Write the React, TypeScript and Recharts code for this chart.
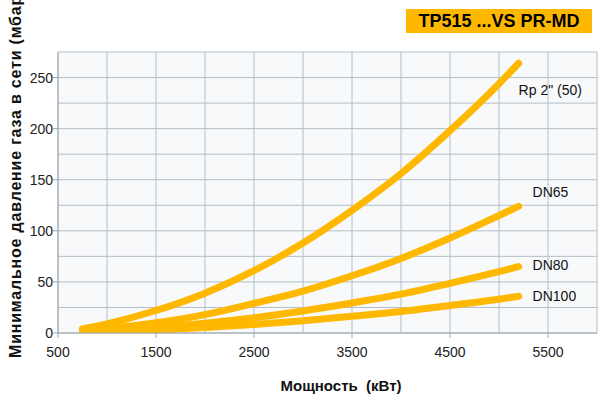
import React from 'react';
import { LineChart, Line, XAxis, YAxis, CartesianGrid, LabelList } from 'recharts';

const powerKW = [750, 1000, 1500, 2000, 2500, 3000, 3500, 4000, 4500, 5000, 5200];
const rp2 = [4, 9, 22, 39, 61, 88, 120, 156, 198, 244, 264];
const dn65 = [3, 4.6, 10, 18, 29, 41, 56, 73, 93, 115, 124];
const dn80 = [2, 2.6, 5.4, 9.6, 15, 21.6, 29.4, 38, 48.6, 60, 65];
const dn100 = [1.5, 1.8, 3, 5.3, 8.3, 12, 16.3, 21, 27, 33, 36];

const seriesNames = ['Rp 2" (50)', 'DN65', 'DN80', 'DN100'];
const xTicks = [500, 1000, 1500, 2000, 2500, 3000, 3500, 4000, 4500, 5000, 5500, 6000];
const xLabeled = [500, 1500, 2500, 3500, 4500, 5500];
const yTicks = [0, 25, 50, 75, 100, 125, 150, 175, 200, 225, 250, 275];
const yLabeled = [0, 50, 100, 150, 200, 250];

const title = 'TP515 ...VS PR-MD';
const xTitle = 'Мощность\u00A0\u00A0(кВт)';
const yTitle = 'Минимальное давление газа в сети (мбар)';

const data = powerKW.map((x, i) => ({ x, rp2: rp2[i], dn65: dn65[i], dn80: dn80[i], dn100: dn100[i] }));

const ORANGE = '#FFB800';
const AXIS = '#9ea8b0';
const GRID = '#b4bec6';

const seriesCfg = [
  { key: 'rp2', name: seriesNames[0], dx: 0, dy: 28 },
  { key: 'dn65', name: seriesNames[1], dx: 14, dy: -13 },
  { key: 'dn80', name: seriesNames[2], dx: 14, dy: 0 },
  { key: 'dn100', name: seriesNames[3], dx: 14, dy: 1 },
];

const XTick = (props: any) => {
  const { x, y, payload } = props;
  if (!xLabeled.includes(payload.value)) return null;
  return (
    <g>
      <line x1={x} x2={x} y1={y} y2={y + 5} stroke={AXIS} strokeWidth={1} />
      <text x={x} y={y + 24} textAnchor="middle" fontSize={14} fill="#222" fontFamily="Liberation Sans, Arial, sans-serif">
        {payload.value}
      </text>
    </g>
  );
};

const YTick = (props: any) => {
  const { x, y, payload } = props;
  if (!yLabeled.includes(payload.value)) return null;
  return (
    <g>
      <line x1={x - 5} x2={x} y1={y} y2={y} stroke={AXIS} strokeWidth={1} />
      <text x={x - 5} y={y + 5} textAnchor="end" fontSize={14} fill="#222" fontFamily="Liberation Sans, Arial, sans-serif">
        {payload.value}
      </text>
    </g>
  );
};

const makeLabel = (name: string, dx: number, dy: number) => (p: any) => {
  if (p.index !== powerKW.length - 1) return null;
  return (
    <text x={p.x + dx} y={p.y + dy} dominantBaseline="middle" fontSize={14} fill="#111" fontFamily="Liberation Sans, Arial, sans-serif">
      {name}
    </text>
  );
};

export default function App() {
  return (
    <div style={{ position: 'absolute', left: 0, top: 0, width: 599, height: 394, background: '#fff', overflow: 'hidden' }}>
      <LineChart width={599} height={394} data={data} margin={{ top: 52, right: 2, left: 8, bottom: 31 }}>
        <CartesianGrid stroke={GRID} fill="#f7f9fb" />
        <XAxis
          dataKey="x"
          type="number"
          domain={[500, 6000]}
          ticks={xTicks}
          interval={0}
          height={30}
          tick={<XTick />}
          tickSize={0}
          tickMargin={0}
          tickLine={false}
          stroke={AXIS}
          allowDataOverflow
        />
        <YAxis
          type="number"
          domain={[0, 275]}
          ticks={yTicks}
          interval={0}
          width={50}
          tick={<YTick />}
          tickSize={0}
          tickMargin={0}
          tickLine={false}
          stroke={AXIS}
          allowDataOverflow
        />
        {seriesCfg.map((s) => (
          <Line
            key={s.key}
            type="monotone"
            dataKey={s.key}
            stroke={ORANGE}
            strokeWidth={7}
            strokeLinecap="round"
            dot={false}
            isAnimationActive={false}
          >
            <LabelList dataKey={s.key} content={makeLabel(s.name, s.dx, s.dy)} />
          </Line>
        ))}
        <text x={341} y={391} textAnchor="middle" fontSize={15} fontWeight="bold" fill="#111" fontFamily="Liberation Sans, Arial, sans-serif">
          {xTitle}
        </text>
        <text
          transform="translate(21,358) rotate(-90)"
          x={0}
          y={0}
          textAnchor="start"
          fontSize={16}
          letterSpacing={0.8}
          fontWeight="bold"
          fill="#111"
          fontFamily="Liberation Sans, Arial, sans-serif"
        >
          {yTitle}
        </text>
      </LineChart>
      <div
        style={{
          position: 'absolute',
          left: 406,
          top: 9,
          width: 186,
          height: 24,
          background: ORANGE,
          color: '#000',
          fontFamily: 'Liberation Sans, Arial, sans-serif',
          fontWeight: 'bold',
          fontSize: 18,
          lineHeight: '24px',
          textAlign: 'center',
        }}
      >
        {title}
      </div>
    </div>
  );
}
